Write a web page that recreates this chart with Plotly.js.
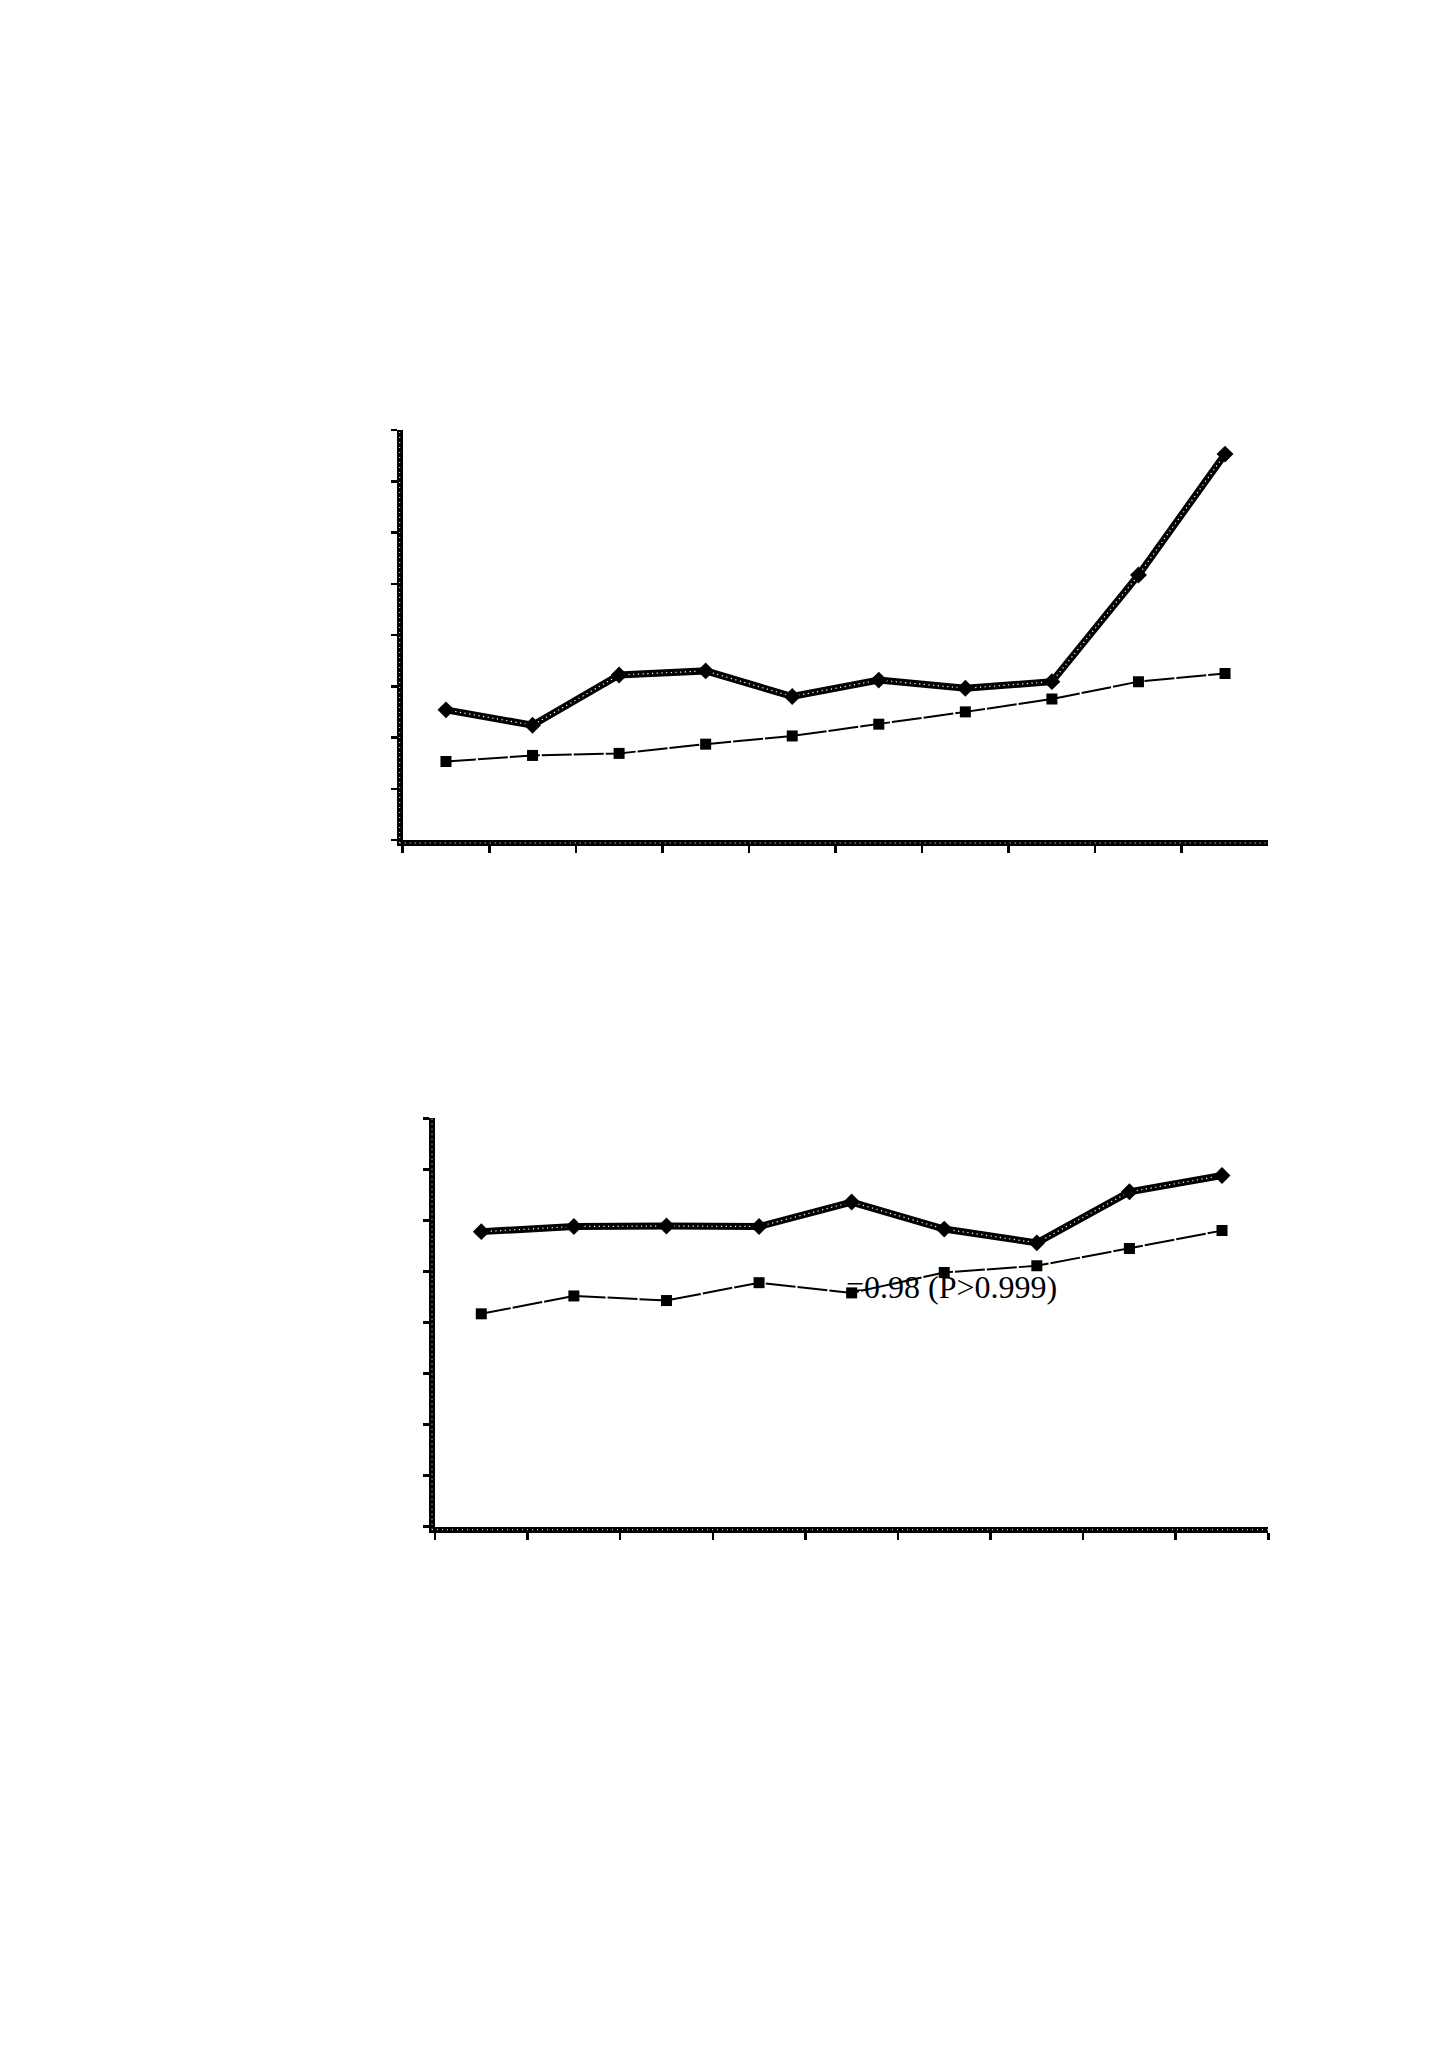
<!DOCTYPE html>
<html>
<head>
<meta charset="utf-8">
<script src="https://cdn.plot.ly/plotly-3.0.1.min.js"></script>
<style>html,body{margin:0;padding:0;background:#fff;}#chart{width:1449px;height:2050px;}</style>
</head>
<body>
<div id="chart"></div>
<script>
// ---- Data ----
var topCategories = ["1","2","3","4","5","6","7","8","9","10"];
var topSeriesA = [2.54, 2.24, 3.22, 3.30, 2.80, 3.12, 2.96, 3.09, 5.17, 7.53]; // thick line, diamonds
var topSeriesB = [1.53, 1.65, 1.69, 1.87, 2.03, 2.26, 2.50, 2.75, 3.09, 3.25]; // thin dashed, squares

var bottomCategories = ["1","2","3","4","5","6","7","8","9"];
var bottomSeriesA = [5.78, 5.88, 5.89, 5.88, 6.36, 5.83, 5.56, 6.56, 6.88];
var bottomSeriesB = [4.17, 4.52, 4.43, 4.78, 4.58, 4.98, 5.11, 5.45, 5.80];

var yTickValues = [0,1,2,3,4,5,6,7,8];
var annotationText = "=0.98 (P>0.999)";

// ---- Traces ----
function thick(xs, ys, xa, ya) {
  return [
    {x: xs, y: ys, xaxis: xa, yaxis: ya, type: 'scatter', mode: 'lines',
     line: {color: '#000', width: 7}, showlegend: false, hoverinfo: 'skip'},
    {x: xs, y: ys, xaxis: xa, yaxis: ya, type: 'scatter', mode: 'lines',
     line: {color: '#fff', width: 1.2, dash: '1.2px,3.5px'}, showlegend: false, hoverinfo: 'skip'},
    {x: xs, y: ys, xaxis: xa, yaxis: ya, type: 'scatter', mode: 'markers',
     marker: {symbol: 'diamond', size: 13, color: '#000', line: {width: 0}}, showlegend: false, hoverinfo: 'skip'}
  ];
}
function thin(xs, ys, xa, ya) {
  return {x: xs, y: ys, xaxis: xa, yaxis: ya, type: 'scatter', mode: 'lines+markers',
    line: {color: '#000', width: 2, dash: '30px,2px'},
    marker: {symbol: 'square', size: 11, color: '#000'}, showlegend: false, hoverinfo: 'skip'};
}

var data = []
  .concat(thick(topCategories, topSeriesA, 'x', 'y'))
  .concat([thin(topCategories, topSeriesB, 'x', 'y')])
  .concat(thick(bottomCategories, bottomSeriesA, 'x2', 'y2'))
  .concat([thin(bottomCategories, bottomSeriesB, 'x2', 'y2')]);

// ---- Layout ----
var W = 1449, H = 2050;
function px(v){ return v / W; }
function py(v){ return (H - v) / H; }

var topX = [402.7, 1268.3], topY = [430, 840];
var botX = [435, 1268.3],   botY = [1118.3, 1526.7];
var AXW = 6;

function xAxis(cats, dom, anchor) {
  return {type: 'category', domain: [px(dom[0]), px(dom[1])], anchor: anchor,
    range: [-0.5, cats.length - 0.5], tickson: 'boundaries',
    showgrid: false, zeroline: false, showticklabels: false,
    showline: true, linecolor: '#000', linewidth: AXW,
    ticks: 'outside', ticklen: 7, tickwidth: 2.5, tickcolor: '#000', fixedrange: true};
}
function yAxis(dom, anchor) {
  return {domain: [py(dom[1]), py(dom[0])], anchor: anchor, range: [0, 8],
    tickvals: yTickValues, showgrid: false, zeroline: false, showticklabels: false,
    showline: true, linecolor: '#000', linewidth: AXW,
    ticks: 'outside', ticklen: 6, tickwidth: 2.5, tickcolor: '#000', fixedrange: true};
}

// white dotted centres of the thick axis lines
function axisDots(xd, yd) {
  var dot = {color: '#fff', width: 1, dash: '1px,4px'};
  var o = AXW / 2;
  return [
    {type: 'line', xref: 'paper', yref: 'paper', x0: px(xd[0] - o), x1: px(xd[1]),
     y0: py(yd[1] + o), y1: py(yd[1] + o), line: dot, layer: 'above'},
    {type: 'line', xref: 'paper', yref: 'paper', x0: px(xd[0] - o), x1: px(xd[0] - o),
     y0: py(yd[1] + o), y1: py(yd[0]), line: dot, layer: 'above'}
  ];
}

var layout = {
  width: W, height: H,
  margin: {l: 0, r: 0, t: 0, b: 0},
  paper_bgcolor: '#fff', plot_bgcolor: 'rgba(0,0,0,0)',
  showlegend: false,
  xaxis: xAxis(topCategories, topX, 'y'),
  yaxis: yAxis(topY, 'x'),
  xaxis2: xAxis(bottomCategories, botX, 'y2'),
  yaxis2: yAxis(botY, 'x2'),
  shapes: axisDots(topX, topY).concat(axisDots(botX, botY)),
  annotations: [{
    xref: 'paper', yref: 'paper', x: px(844), y: py(1287),
    xanchor: 'left', yanchor: 'middle', showarrow: false,
    text: annotationText,
    font: {family: 'Liberation Serif, Times New Roman, serif', size: 32, color: '#000'}
  }]
};

Plotly.newPlot('chart', data, layout, {staticPlot: true, displayModeBar: false});
</script>
</body>
</html>
